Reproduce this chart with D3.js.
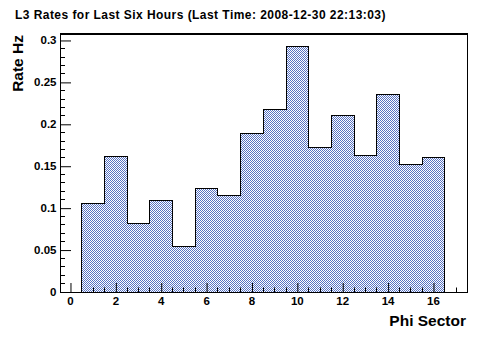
<!DOCTYPE html>
<html>
<head>
<meta charset="utf-8">
<script src="https://cdn.jsdelivr.net/npm/d3@7"></script>
<style>
  html, body { margin: 0; padding: 0; background: #fff; }
  svg { display: block; }
  text { font-family: "Liberation Sans", Arial, Helvetica, sans-serif; font-weight: bold; fill: #000; }
</style>
</head>
<body>
<svg id="chart" width="492" height="344"></svg>
<script>
// ---- data ----
const sectors = [1, 2, 3, 4, 5, 6, 7, 8, 9, 10, 11, 12, 13, 14, 15, 16];
const rates = [0.106, 0.162, 0.082, 0.109, 0.054, 0.123, 0.115, 0.189, 0.218, 0.293, 0.172, 0.211, 0.163, 0.235, 0.152, 0.160];
const xTicks = [0, 2, 4, 6, 8, 10, 12, 14, 16];
const yTicks = [0, 0.05, 0.1, 0.15, 0.2, 0.25, 0.3];
const titleText = "L3 Rates for Last Six Hours (Last Time: 2008-12-30 22:13:03)";
const xTitle = "Phi Sector";
const yTitle = "Rate Hz";

(function () {
const svg = d3.select("#chart");
const mLeft = 60, mRight = 467, mTop = 33.5, mBottom = 292;

const x = d3.scaleLinear().domain([-0.44, 17.5]).range([mLeft, mRight]);
const y = d3.scaleLinear().domain([0, 0.3077]).range([mBottom - 0.5, mTop]);

// checkerboard pattern
const defs = svg.append("defs");
const pat = defs.append("pattern").attr("id", "chk")
  .attr("patternUnits", "userSpaceOnUse").attr("width", 2).attr("height", 2);
pat.append("rect").attr("width", 2).attr("height", 2).attr("fill", "#fff");
pat.append("rect").attr("x", 0).attr("y", 0).attr("width", 1).attr("height", 1).attr("fill", "#5672c2");
pat.append("rect").attr("x", 1).attr("y", 1).attr("width", 1).attr("height", 1).attr("fill", "#5672c2");

// title
svg.append("text").attr("x", 15).attr("y", 19.3).attr("font-size", 12)
  .attr("letter-spacing", 0.45).text(titleText);

// histogram fill
const g = svg.append("g");
const bins = sectors.map((s, i) => ({x0: s - 0.5, x1: s + 0.5, v: rates[i]}));
g.selectAll("rect.bar").data(bins).enter().append("rect")
  .attr("class", "bar")
  .attr("x", d => Math.round(x(d.x0)))
  .attr("width", d => Math.round(x(d.x1)) - Math.round(x(d.x0)))
  .attr("y", d => Math.round(y(d.v)))
  .attr("height", d => mBottom - Math.round(y(d.v)))
  .attr("fill", "url(#chk)")
  .attr("shape-rendering", "crispEdges");

// histogram outline
const pts = [];
bins.forEach((d, i) => {
  const xa = Math.round(x(d.x0)) + 0.5, xb = Math.round(x(d.x1)) + 0.5, yy = Math.round(y(d.v)) + 0.5;
  if (i === 0) pts.push([xa, mBottom]);
  pts.push([xa, yy]); pts.push([xb, yy]);
  if (i === bins.length - 1) pts.push([xb, mBottom]);
});
g.append("path").attr("d", d3.line()(pts)).attr("fill", "none")
  .attr("stroke", "#000").attr("stroke-width", 1).attr("shape-rendering", "crispEdges");

// frame
svg.append("rect").attr("x", mLeft + 0.5).attr("y", mTop).attr("width", mRight - mLeft).attr("height", mBottom - mTop + 0.5)
  .attr("fill", "none").attr("stroke", "#000").attr("stroke-width", 1).attr("shape-rendering", "crispEdges");
svg.append("line").attr("x1", mLeft).attr("x2", mRight + 1).attr("y1", mTop).attr("y2", mTop)
  .attr("stroke", "#000").attr("stroke-width", 2).attr("shape-rendering", "crispEdges");

// x axis ticks (pointing up into the plot)
const xAxis = d3.axisTop(x).tickValues(xTicks).tickSize(9).tickFormat("");
const xMinor = d3.range(-0.5, 17.51, 0.5).filter(v => x(v) > mLeft + 1 && x(v) < mRight - 1 && Math.abs(v % 2) > 1e-9);
const gx = svg.append("g").attr("transform", `translate(0.5,${mBottom})`);
gx.call(xAxis);
gx.select(".domain").remove();
gx.selectAll(".tick line").attr("stroke", "#000");
gx.selectAll("line.minor").data(xMinor).enter().append("line").attr("class", "minor")
  .attr("x1", d => Math.round(x(d))).attr("x2", d => Math.round(x(d)))
  .attr("y1", 0).attr("y2", -4.5).attr("stroke", "#000");
svg.append("g").selectAll("text").data(xTicks).enter().append("text")
  .attr("x", d => x(d) + 0.5).attr("y", 305).attr("text-anchor", "middle").attr("font-size", 11.5)
  .text(d => d);

// y axis ticks (pointing right into the plot)
const yAxis = d3.axisRight(y).tickValues(yTicks).tickSize(11).tickFormat("");
const gy = svg.append("g").attr("transform", `translate(${mLeft},0.5)`);
gy.call(yAxis);
gy.select(".domain").remove();
gy.selectAll(".tick line").attr("stroke", "#000");
const yMinor = d3.range(0, 0.3077, 0.01).filter(v => Math.abs(Math.round(v * 100) % 5) !== 0);
gy.selectAll("line.minor").data(yMinor).enter().append("line").attr("class", "minor")
  .attr("y1", d => Math.round(y(d))).attr("y2", d => Math.round(y(d)))
  .attr("x1", 0).attr("x2", 5).attr("stroke", "#000");
svg.append("g").selectAll("text").data(yTicks).enter().append("text")
  .attr("x", 56.5).attr("y", d => y(d) + 4).attr("text-anchor", "end").attr("font-size", 11.5)
  .text(d => d);

// axis titles
svg.append("text").attr("x", 466).attr("y", 326).attr("text-anchor", "end").attr("font-size", 15.5).text(xTitle);
svg.append("text").attr("transform", "translate(22.5,35) rotate(-90)").attr("text-anchor", "end")
  .attr("font-size", 15.5).text(yTitle);
})();
</script>
</body>
</html>
